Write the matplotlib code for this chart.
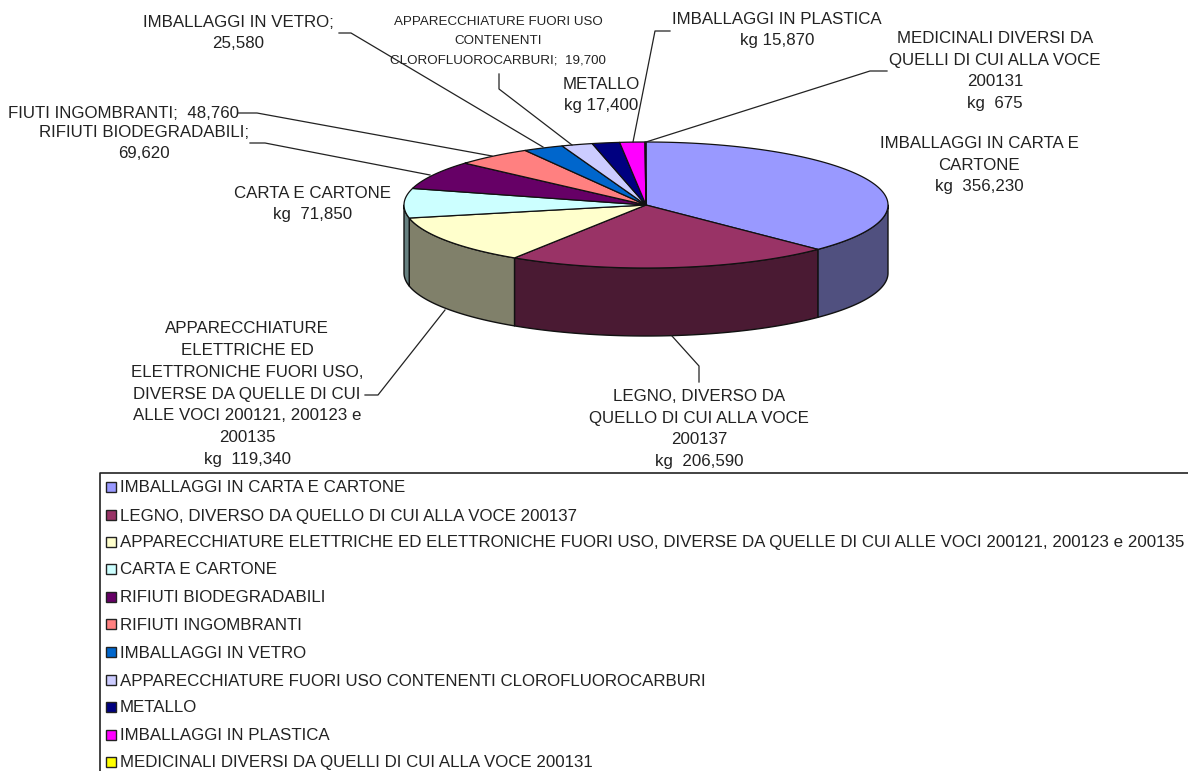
import numpy as np
import matplotlib
matplotlib.use("Agg")
import matplotlib.pyplot as plt

plt.rcParams['font.family'] = ['Liberation Sans', 'DejaVu Sans']

# data
categories = ["IMBALLAGGI IN CARTA E CARTONE",
              "LEGNO, DIVERSO DA QUELLO DI CUI ALLA VOCE 200137",
              "APPARECCHIATURE ELETTRICHE ED ELETTRONICHE FUORI USO, DIVERSE DA QUELLE DI CUI ALLE VOCI 200121, 200123 e 200135",
              "CARTA E CARTONE",
              "RIFIUTI BIODEGRADABILI",
              "RIFIUTI INGOMBRANTI",
              "IMBALLAGGI IN VETRO",
              "APPARECCHIATURE FUORI USO CONTENENTI CLOROFLUOROCARBURI",
              "METALLO",
              "IMBALLAGGI IN PLASTICA",
              "MEDICINALI DIVERSI DA QUELLI DI CUI ALLA VOCE 200131"]
values = [356230, 206590, 119340, 71850, 69620, 48760, 25580, 19700, 17400, 15870, 675]
top_colors = ["#9999FF", "#993366", "#FFFFCC", "#CCFFFF", "#660066", "#FF8080",
              "#0066CC", "#CCCCFF", "#000080", "#FF00FF", "#FFFF00"]
side_colors = ["#50507F", "#4A1A33", "#80806A", "#668080"]

# text, x, y, size, line spacing
labels = [("IMBALLAGGI IN CARTA E\nCARTONE\nkg  356,230", 979, 165, 12.2, 1.58),
          ("LEGNO, DIVERSO DA\nQUELLO DI CUI ALLA VOCE\n200137\nkg  206,590", 699, 429, 12.2, 1.58),
          ("APPARECCHIATURE\nELETTRICHE ED\nELETTRONICHE FUORI USO,\nDIVERSE DA QUELLE DI CUI\nALLE VOCI 200121, 200123 e\n200135\nkg  119,340", 247, 394, 12.2, 1.58),
          ("CARTA E CARTONE\nkg  71,850", 313, 204, 12.2, 1.58),
          ("RIFIUTI BIODEGRADABILI;\n69,620", 144, 143, 12.2, 1.58),
          ("FIUTI INGOMBRANTI;  48,760", 123, 113, 12.2, 1.58),
          ("IMBALLAGGI IN VETRO;\n25,580", 238, 33, 12.2, 1.58),
          ("APPARECCHIATURE FUORI USO\nCONTENENTI\nCLOROFLUOROCARBURI;  19,700", 498, 41, 9.6, 1.8),
          ("METALLO\nkg 17,400", 601, 95, 12.2, 1.58),
          ("IMBALLAGGI IN PLASTICA\nkg 15,870", 777, 30, 12.2, 1.58),
          ("MEDICINALI DIVERSI DA\nQUELLI DI CUI ALLA VOCE\n200131\nkg  675", 995, 71, 12.2, 1.58)]

# leader lines, picture pixels
leaders = [([887, 870, 646], [71, 71, 142]),
           ([670, 655, 633], [31, 31, 142]),
           ([499, 499, 572], [74, 89, 145]),
           ([339, 351, 543], [33, 33, 147]),
           ([238, 257, 492], [113, 113, 156]),
           ([250, 265, 430], [143, 143, 175]),
           ([365, 378, 445], [395, 395, 310]),
           ([699, 699, 672], [382, 366, 336])]

legend_y = [487, 515, 542, 569, 597, 624, 652, 680, 707, 735, 762]

# pie layout
cx, cy, rx, ry, depth = 646, 205, 242, 63, 68


def rim(a0, a1):
    t = np.radians(np.linspace(a0, a1, max(int(abs(a1 - a0) * 2), 2)))
    return cx + rx * np.sin(t), cy - ry * np.cos(t)


fig = plt.figure(figsize=(11.88, 7.71), dpi=100)
ax = fig.add_axes([0, 0, 1, 1])
ax.set_xlim(0, 1188)
ax.set_ylim(771, 0)
ax.axis("off")

edges = np.concatenate([[0], np.cumsum(values)]) / float(sum(values)) * 360

# side wall, only the front half shows
for i in range(len(values)):
    a0, a1 = max(edges[i], 90), min(edges[i + 1], 270)
    if a1 <= a0:
        continue
    x, y = rim(a0, a1)
    ax.fill(np.r_[x, x[::-1]], np.r_[y, y[::-1] + depth], fc=side_colors[i],
            ec="#111111", lw=1, joinstyle="round", zorder=2)

# top face
for i in range(len(values)):
    x, y = rim(edges[i], edges[i + 1])
    ax.fill(np.r_[cx, x], np.r_[cy, y], fc=top_colors[i], ec="#111111", lw=0.9,
            joinstyle="round", zorder=3)

for x, y in leaders:
    ax.plot(x, y, color="#222222", lw=0.9, zorder=4)

for txt, x, y, size, spacing in labels:
    ax.text(x, y, txt, fontsize=size, ha="center", va="center", color="#222222",
            linespacing=spacing, zorder=5)

# legend, cut off by the picture edge at the bottom and right
ax.plot([100, 100, 1188], [771, 473, 473], color="#222222", lw=1.2, zorder=4)
for name, col, y in zip(categories, top_colors, legend_y):
    ax.add_patch(plt.Rectangle((106, y - 5), 10, 10, fc=col, ec="#222222", lw=1, zorder=4))
    ax.text(120, y + 1, name, fontsize=12.2, ha="left", va="center", color="#222222", zorder=5)

fig.savefig("out.png", dpi=100)
